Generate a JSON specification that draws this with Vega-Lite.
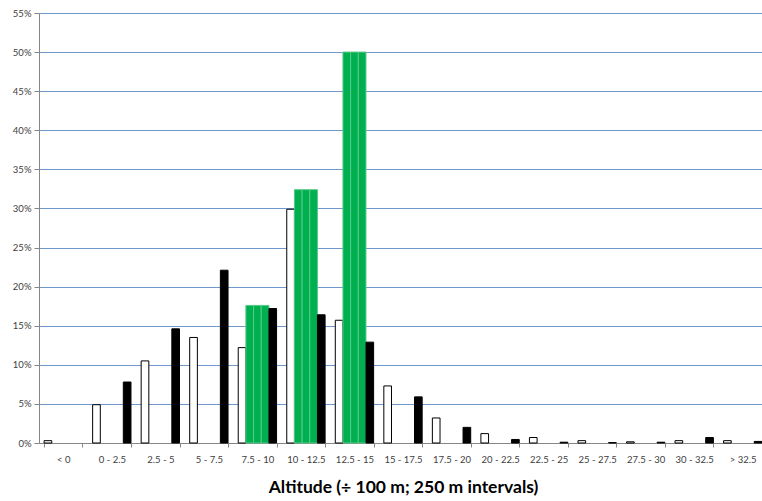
{
  "$schema": "https://vega.github.io/schema/vega-lite/v6.json",
  "autosize": {"type": "none"},
  "padding": {"left": 39, "top": 13, "right": -5, "bottom": 58},
  "width": 728,
  "height": 430,
  "background": "white",
  "config": {"view": {"stroke": null}, "font": "Lato"},
  "data": {"values": [
    {"cat": "< 0", "s": "A", "v": 0.3},
    {"cat": "0 - 2.5", "s": "A", "v": 4.9},
    {"cat": "0 - 2.5", "s": "B", "v": 7.8},
    {"cat": "2.5 - 5", "s": "A", "v": 10.5},
    {"cat": "2.5 - 5", "s": "B", "v": 14.6},
    {"cat": "5 - 7.5", "s": "A", "v": 13.5},
    {"cat": "5 - 7.5", "s": "B", "v": 22.1},
    {"cat": "7.5 - 10", "s": "A", "v": 12.2},
    {"cat": "7.5 - 10", "s": "G1", "v": 17.6},
    {"cat": "7.5 - 10", "s": "G2", "v": 17.6},
    {"cat": "7.5 - 10", "s": "G3", "v": 17.6},
    {"cat": "7.5 - 10", "s": "B", "v": 17.2},
    {"cat": "10 - 12.5", "s": "A", "v": 29.9},
    {"cat": "10 - 12.5", "s": "G1", "v": 32.4},
    {"cat": "10 - 12.5", "s": "G2", "v": 32.4},
    {"cat": "10 - 12.5", "s": "G3", "v": 32.4},
    {"cat": "10 - 12.5", "s": "B", "v": 16.4},
    {"cat": "12.5 - 15", "s": "A", "v": 15.7},
    {"cat": "12.5 - 15", "s": "G1", "v": 50.0},
    {"cat": "12.5 - 15", "s": "G2", "v": 50.0},
    {"cat": "12.5 - 15", "s": "G3", "v": 50.0},
    {"cat": "12.5 - 15", "s": "B", "v": 12.9},
    {"cat": "15 - 17.5", "s": "A", "v": 7.3},
    {"cat": "15 - 17.5", "s": "B", "v": 5.9},
    {"cat": "17.5 - 20", "s": "A", "v": 3.2},
    {"cat": "17.5 - 20", "s": "B", "v": 2.0},
    {"cat": "20 - 22.5", "s": "A", "v": 1.2},
    {"cat": "20 - 22.5", "s": "B", "v": 0.45},
    {"cat": "22.5 - 25", "s": "A", "v": 0.7},
    {"cat": "22.5 - 25", "s": "B", "v": 0.1},
    {"cat": "25 - 27.5", "s": "A", "v": 0.3},
    {"cat": "25 - 27.5", "s": "B", "v": 0.05},
    {"cat": "27.5 - 30", "s": "A", "v": 0.15},
    {"cat": "27.5 - 30", "s": "B", "v": 0.1},
    {"cat": "30 - 32.5", "s": "A", "v": 0.3},
    {"cat": "30 - 32.5", "s": "B", "v": 0.7},
    {"cat": "> 32.5", "s": "A", "v": 0.3},
    {"cat": "> 32.5", "s": "B", "v": 0.2}
  ]},
  "mark": {"type": "bar", "strokeWidth": 1},
  "encoding": {
    "x": {
      "field": "cat", "type": "nominal", "sort": null,
      "scale": {"paddingInner": 0.21, "paddingOuter": 0.105},
      "axis": {
        "title": "Altitude (÷ 100 m; 250 m intervals)",
        "titleFont": "Lato", "titleFontSize": 17.5, "titleFontWeight": "bold", "titleColor": "#000000",
        "titlePadding": 15,
        "labelAngle": 0, "labelFontSize": 9.5, "labelColor": "#404040", "labelPadding": 7,
        "tickBand": "extent", "tickSize": 4, "tickColor": "#868686",
        "domainColor": "#868686", "grid": false
      }
    },
    "xOffset": {
      "field": "s", "type": "nominal",
      "sort": ["A", "G1", "G2", "G3", "B"],
      "scale": {"domain": ["A", "G1", "G2", "G3", "B"], "paddingInner": 0, "paddingOuter": 0}
    },
    "y": {
      "field": "v", "type": "quantitative",
      "scale": {"domain": [0, 55], "nice": false},
      "axis": {
        "title": null, "values": [0,5,10,15,20,25,30,35,40,45,50,55],
        "labelExpr": "datum.value + '%'",
        "labelFontSize": 9.5, "labelColor": "#404040", "labelPadding": 3,
        "tickSize": 5, "tickColor": "#868686", "domainColor": "#868686",
        "grid": true, "gridColor": "#6f98cf", "gridWidth": 1.2
      }
    },
    "color": {
      "field": "s", "type": "nominal", "legend": null,
      "scale": {"domain": ["A", "G1", "G2", "G3", "B"], "range": ["#ffffff", "#00b050", "#00b050", "#00b050", "#000000"]}
    },
    "stroke": {
      "field": "s", "type": "nominal", "legend": null,
      "scale": {"domain": ["A", "G1", "G2", "G3", "B"], "range": ["#000000", "#55c985", "#55c985", "#55c985", "#000000"]}
    }
  }
}
